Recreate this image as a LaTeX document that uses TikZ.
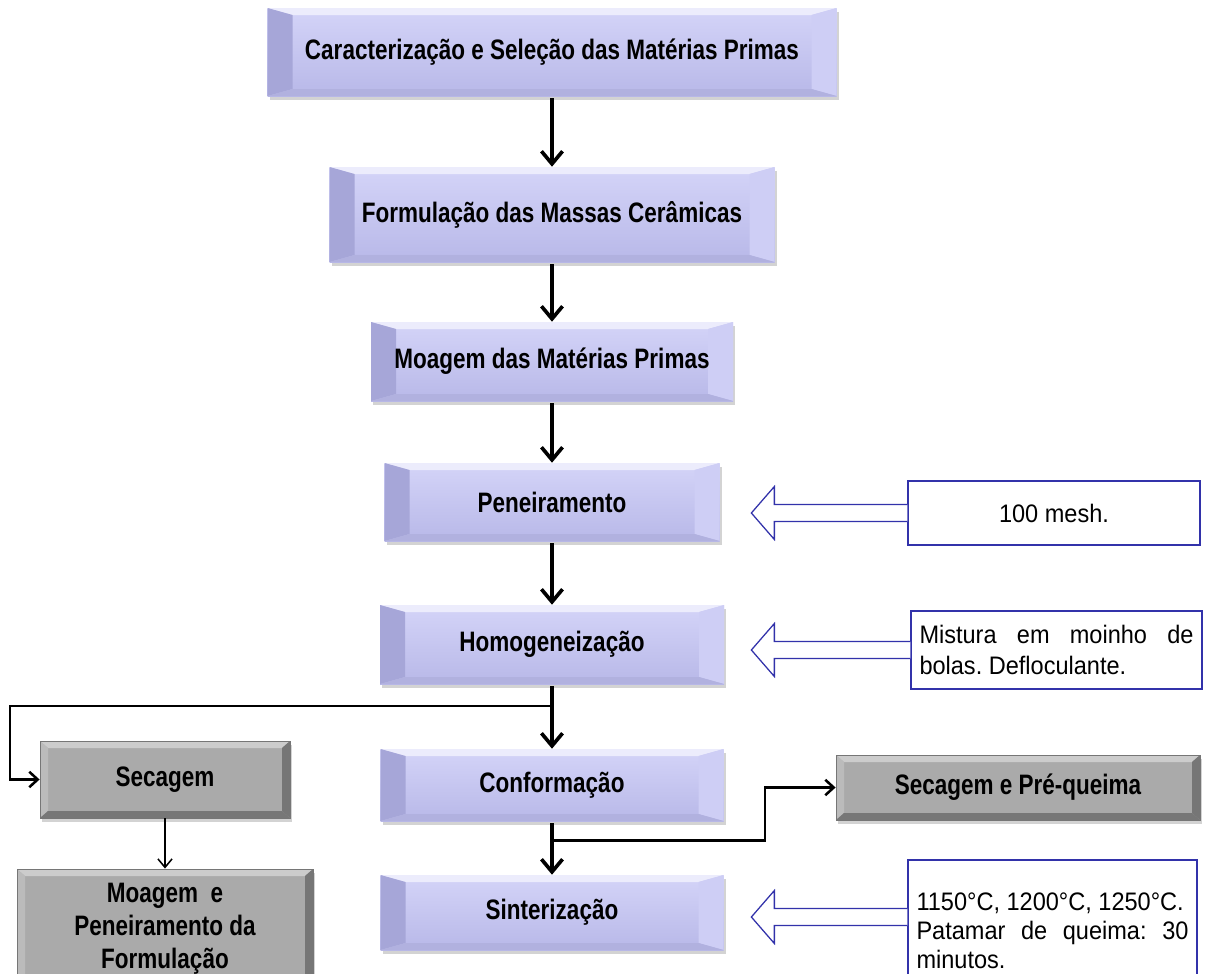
\documentclass[tikz,border=0pt]{standalone}
\usepackage{fontspec}
\setmainfont{Liberation Sans}[FakeStretch=0.93]
\newfontfamily\fonteetapa{Liberation Sans}[FakeStretch=0.8]
\usepackage{tikz}
\usetikzlibrary{arrows.meta,calc,shadows,positioning}
\definecolor{Lavanda}{RGB}{184,184,232}
\definecolor{LavandaClara}{RGB}{212,212,248}
\definecolor{LavandaEscura}{RGB}{166,166,216}
\definecolor{Cinza}{RGB}{170,170,170}
\definecolor{CinzaEscuro}{RGB}{118,118,118}
\definecolor{CinzaClaro}{RGB}{204,204,204}
\definecolor{AzulSeta}{RGB}{50,50,170}

\newcommand{\px}[1]{#1*0.025cm}
% bisel: dx, dy, topo, esquerda, direita, base
\newcommand{\bisel}[6]{%
\coordinate (NO) at (path picture bounding box.north west);
\coordinate (NE) at (path picture bounding box.north east);
\coordinate (SO) at (path picture bounding box.south west);
\coordinate (SE) at (path picture bounding box.south east);
\fill[#3] (NO) -- (NE) -- ($(NE)+(-#1,#2)$) -- ($(NO)+(#1,#2)$) -- cycle;
\fill[#4] (NO) -- ($(NO)+(#1,#2)$) -- ($(SO)+(#1,-#2)$) -- (SO) -- cycle;
\fill[#5] (NE) -- ($(NE)+(-#1,#2)$) -- ($(SE)+(-#1,-#2)$) -- (SE) -- cycle;
\fill[#6] (SO) -- ($(SO)+(#1,-#2)$) -- ($(SE)+(-#1,-#2)$) -- (SE) -- cycle;
}
% seta em bloco: ponto de saida, comprimento da haste
\newcommand{\setabloco}[2]{%
\draw[setabloco] ($#1+(0,-8.5)$) -- ++(-#2,0) -- ++(0,-18) -- ++(-23,26.5) -- ++(23,26.5) -- ++(0,-18) -- ++(#2,0);
}

\tikzset{
etapa/.style={inner sep=0pt, font=\fonteetapa\bfseries\fontsize{20}{23}\selectfont,
  top color=LavandaClara, bottom color=Lavanda,
  path picture={\bisel{25}{7}{white!55!LavandaClara}{LavandaEscura}{LavandaClara!80!Lavanda}{Lavanda!96!black}},
  drop shadow={shadow xshift=1.5pt, shadow yshift=-2.5pt, opacity=0.35, fill=black!50}},
cinza/.style={inner sep=0pt, align=center, font=\fonteetapa\bfseries\fontsize{20}{23.5}\selectfont,
  fill=Cinza, draw=CinzaEscuro, line width=0.6pt,
  path picture={\bisel{8}{7}{CinzaClaro}{Cinza!80!white}{CinzaEscuro}{Cinza!70!black}},
  drop shadow={shadow xshift=1.5pt, shadow yshift=-2.5pt, opacity=0.35, fill=black!50}},
nota/.style={draw=AzulSeta, line width=0.9pt, fill=white, inner sep=0pt,
  font=\frenchspacing\fontsize{18}{22.5}\selectfont},
setabloco/.style={draw=AzulSeta, line width=0.9pt, fill=white, line join=miter},
fluxo/.style={-{Straight Barb[length=9pt,width=15pt]}, line width=2.6pt, shorten <=1.5pt},
ramo/.style={-{Straight Barb[length=6pt,width=11pt]}, line width=1.8pt},
fino/.style={-{Straight Barb[length=6pt,width=10pt]}, line width=1.1pt},
}

\begin{document}
\begin{tikzpicture}[x=0.025cm, y=-0.025cm]
\useasboundingbox (0,0) rectangle (1206,974);
\clip (0,0) rectangle (1206,974);
% coluna principal
\node[etapa, minimum width=\px{569}, minimum height=\px{88}] (carac) at (552,52) {Caracterização e Seleção das Matérias Primas};
\node[etapa, minimum width=\px{445}, minimum height=\px{95}] (formul) at (552,214.5) {Formulação das Massas Cerâmicas};
\node[etapa, minimum width=\px{362}, minimum height=\px{79}] (moagem) at (552,361.5) {Moagem das Matérias Primas};
\node[etapa, minimum width=\px{335}, minimum height=\px{78}] (peneira) at (552,502) {Peneiramento};
\node[etapa, minimum width=\px{344}, minimum height=\px{79}] (homog) at (552,644.5) {Homogeneização};
\node[etapa, minimum width=\px{343}, minimum height=\px{72}] (conform) at (552,785) {Conformação};
\node[etapa, minimum width=\px{343}, minimum height=\px{75}] (sinter) at (552,912.5) {Sinterização};
% caixas cinza
\node[cinza, minimum width=\px{250}, minimum height=\px{77}] (secagem) at (165,779.5) {Secagem};
\node[cinza, minimum width=\px{296}, minimum height=\px{119}] (moagform) at (165,928.5) {Moagem\ \ e\\Peneiramento da\\Formulação};
\node[cinza, minimum width=\px{364}, minimum height=\px{65}] (prequeima) at (1018,787.5) {Secagem e Pré-queima};
% notas
\node[nota, minimum width=\px{292}, minimum height=\px{64}] (mesh) at (1054,513) {100 mesh.};
\node[nota, minimum width=\px{291}, minimum height=\px{78}, text width=\px{274}, align=justify] (mistura) at (1056.5,650) {Mistura em moinho de\linebreak bolas. Defloculante.};
\node[nota, minimum width=\px{289}, minimum height=\px{142}, text width=\px{272}, align=justify, font=\frenchspacing\fontsize{18}{20.5}\selectfont] (queima) at (1052.5,931) {1150°C, 1200°C, 1250°C.\\ Patamar de queima: 30\linebreak minutos.};
% setas
\draw[fluxo] (carac) -- (formul);
\draw[fluxo] (formul) -- (moagem);
\draw[fluxo] (moagem) -- (peneira);
\draw[fluxo] (peneira) -- (homog);
\draw[fluxo] (homog) -- (conform);
\draw[fluxo] (conform) -- (sinter);
\coordinate (b1) at ($(homog.south)+(0,21.5)$);
\coordinate (b2) at ($(conform.south)+(0,19)$);
\draw[ramo] (b1) -- ++(-542,0) |- (secagem.west);
\draw[ramo] (b2) -- ++(213,0) |- (prequeima.west);
\draw[fino] (secagem) -- (moagform);
\setabloco{(mesh.west)}{133}
\setabloco{(mistura.west)}{136}
\setabloco{(queima.west |- 0,917)}{133}
\end{tikzpicture}
\end{document}
